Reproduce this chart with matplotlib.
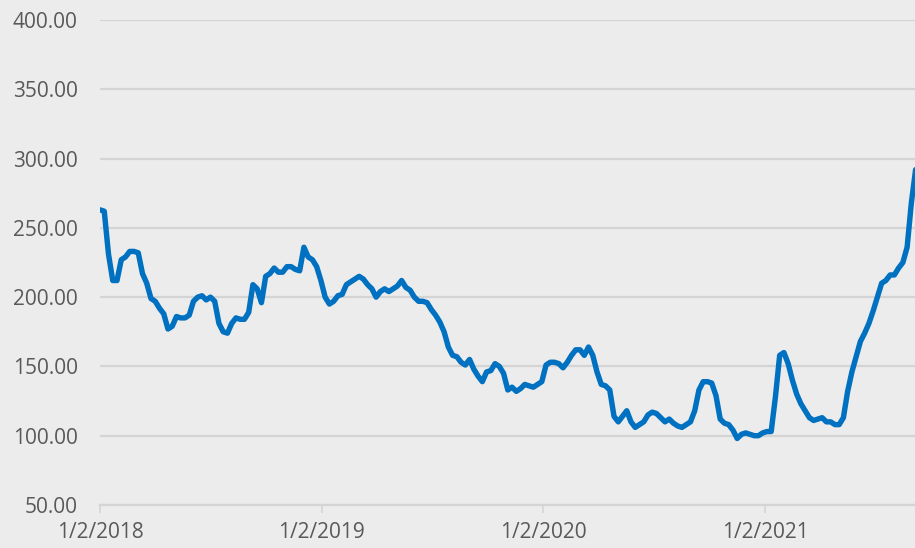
import matplotlib.pyplot as plt
import pandas as pd

# weekly closing values, starting 1/2/2018
start_date = '2018-01-02'
values = [
    263, 262, 231, 212, 212, 227, 229, 233, 233, 232,
    217, 210, 199, 197, 192, 188, 177, 179, 186, 185,
    185, 187, 197, 200, 201, 198, 200, 197, 181, 175,
    174, 181, 185, 184, 184, 189, 209, 206, 196, 215,
    217, 221, 218, 218, 222, 222, 220, 219, 236, 229,
    227, 222, 212, 200, 195, 197, 201, 202, 209, 211,
    213, 215, 213, 209, 206, 200, 204, 206, 204, 206,
    208, 212, 207, 205, 200, 197, 197, 196, 191, 187,
    182, 175, 164, 158, 157, 153, 151, 155, 148, 143,
    139, 146, 147, 152, 150, 145, 133, 135, 132, 134,
    137, 136, 135, 137, 139, 151, 153, 153, 152, 149,
    153, 158, 162, 162, 158, 164, 158, 146, 137, 136,
    133, 114, 110, 114, 118, 110, 106, 108, 110, 115,
    117, 116, 113, 110, 112, 109, 107, 106, 108, 110,
    118, 133, 139, 139, 138, 129, 112, 109, 108, 104,
    98, 101, 102, 101, 100, 100, 102, 103, 103, 128,
    158, 160, 152, 140, 130, 123, 118, 113, 111, 112,
    113, 110, 110, 108, 108, 113, 132, 146, 157, 168,
    174, 181, 190, 200, 210, 212, 216, 216, 221, 225,
    236, 268, 292,
]
dates = pd.date_range(start_date, periods=len(values), freq='7D')

tick_dates = ['2018-01-02', '2019-01-02', '2020-01-02', '2021-01-02']
tick_labels = ['1/2/2018', '1/2/2019', '1/2/2020', '1/2/2021']
y_ticks = [50, 100, 150, 200, 250, 300, 350, 400]

line_color = '#0070C0'
grid_color = '#d4d4d4'
text_color = '#595959'

fig = plt.figure(figsize=(9.15, 5.48), dpi=100)
fig.patch.set_facecolor('#ececec')
ax = fig.add_axes([0.1093, 0.0785, 0.8907, 0.885])
ax.set_facecolor('#ececec')

ax.plot(dates, values, color=line_color, linewidth=3.9, solid_joinstyle='round',
        solid_capstyle='round', zorder=3)

ax.set_ylim(50, 400)
ax.set_yticks(y_ticks)
ax.set_yticklabels([f'{v:.2f}' for v in y_ticks])
ax.set_xlim(pd.Timestamp(start_date), pd.Timestamp('2021-09-06'))
ax.set_xticks([pd.Timestamp(d) for d in tick_dates])
ax.set_xticklabels(tick_labels)

ax.grid(True, axis='y', color=grid_color, linewidth=1.6, zorder=1)
for s in ['top', 'right', 'left']:
    ax.spines[s].set_visible(False)
ax.spines['bottom'].set_color(grid_color)
ax.spines['bottom'].set_linewidth(1.6)

ax.tick_params(axis='y', length=0, pad=16, labelsize=15, labelcolor=text_color)
ax.tick_params(axis='x', length=6, width=1.2, color=grid_color, pad=6,
               labelsize=15, labelcolor=text_color)
for lab in ax.get_xticklabels() + ax.get_yticklabels():
    lab.set_fontfamily('Open Sans')

plt.savefig('out.png', dpi=100, facecolor=fig.get_facecolor())
plt.close()
